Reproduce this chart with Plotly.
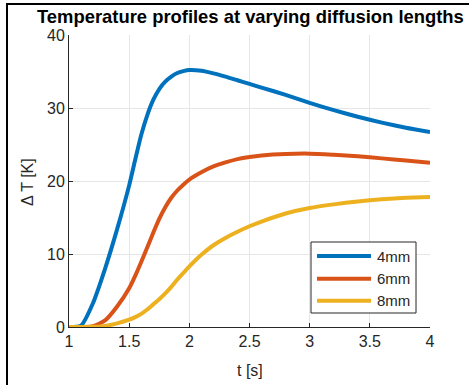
import plotly.graph_objects as go

# ---------------- data ----------------
t = [1.0, 1.1, 1.2, 1.3, 1.4, 1.5, 1.55, 1.6, 1.65, 1.7, 1.75, 1.8, 1.85, 1.9, 1.95, 2.0,
     2.1, 2.2, 2.3, 2.4, 2.5, 2.6, 2.8, 3.0, 3.2, 3.4, 3.6, 3.8, 4.0]
dT_4mm = [0.0, 0.2, 3.3, 8.0, 13.4, 19.4, 22.9, 26.3, 29.0, 31.1, 32.6, 33.6, 34.3, 34.8, 35.05, 35.2,
          35.1, 34.75, 34.3, 33.8, 33.3, 32.8, 31.8, 30.7, 29.7, 28.8, 28.0, 27.3, 26.7]
dT_6mm = [0.0, 0.0, 0.1, 0.9, 2.8, 5.3, 7.0, 8.9, 10.9, 12.9, 14.8, 16.4, 17.7, 18.7, 19.5, 20.2,
          21.2, 22.0, 22.55, 23.0, 23.3, 23.5, 23.7, 23.75, 23.6, 23.4, 23.1, 22.8, 22.5]
dT_8mm = [0.0, 0.0, 0.03, 0.15, 0.5, 1.0, 1.35, 1.8, 2.4, 3.1, 3.8, 4.6, 5.5, 6.5, 7.4, 8.3,
          9.9, 11.2, 12.2, 13.05, 13.8, 14.45, 15.55, 16.3, 16.8, 17.2, 17.5, 17.7, 17.8]
series_names = ["4mm", "6mm", "8mm"]
series_values = [dT_4mm, dT_6mm, dT_8mm]
colors = ["#0072BD", "#D95319", "#EDB120"]

x_ticks = [1, 1.5, 2, 2.5, 3, 3.5, 4]
x_ticklabels = ["1", "1.5", "2", "2.5", "3", "3.5", "4"]
y_ticks = [0, 10, 20, 30, 40]
y_ticklabels = ["0", "10", "20", "30", "40"]

title_text = "Temperature profiles at varying diffusion lengths"
xlabel = "t [s]"
ylabel = "\u0394 T [K]"

# ---------------- layout geometry ----------------
W, H = 469, 385
L, R, T, B = 69, 430, 35, 327
FONT = "Liberation Sans, Arial, sans-serif"
TXT = "#262626"


def px(xp):
    return (xp - L) / (R - L)


def py(yp):
    return (B - yp) / (B - T)


fig = go.Figure()
for name, vals, col in zip(series_names, series_values, colors):
    fig.add_trace(go.Scatter(x=t, y=vals, mode="lines", name=name,
                             line=dict(color=col, width=4, shape="spline", smoothing=0.6),
                             showlegend=False, hoverinfo="skip"))

shapes = []
annotations = []

# figure border (top + left visible)
shapes.append(dict(type="path", xref="paper", yref="paper",
                   path=f"M {px(7)} {py(400)} L {px(7)} {py(4)} L {px(480)} {py(4)}",
                   line=dict(color="black", width=2)))

# manual legend
lx0, lx1, ly0, ly1 = 311, 416, 242, 313
shapes.append(dict(type="rect", xref="paper", yref="paper", layer="above",
                   x0=px(lx0), x1=px(lx1), y0=py(ly1), y1=py(ly0),
                   line=dict(color=TXT, width=1), fillcolor="white"))
row_y = [256, 278.7, 300.7]
for name, col, ry in zip(series_names, colors, row_y):
    shapes.append(dict(type="line", xref="paper", yref="paper", layer="above",
                       x0=px(317), x1=px(371), y0=py(ry), y1=py(ry),
                       line=dict(color=col, width=4)))
    annotations.append(dict(text=name, xref="paper", yref="paper", x=px(375), y=py(ry),
                            xanchor="left", yanchor="middle", showarrow=False,
                            font=dict(family=FONT, size=15, color=TXT)))

# title
annotations.append(dict(text=f"<b>{title_text}</b>", xref="paper", yref="paper",
                        x=px(251), y=py(17), xanchor="center", yanchor="middle",
                        showarrow=False, font=dict(family=FONT, size=18.4, color="black")))
# axis labels
annotations.append(dict(text=xlabel, xref="paper", yref="paper", x=px(249.5), y=py(370),
                        xanchor="center", yanchor="middle", showarrow=False,
                        font=dict(family=FONT, size=16, color=TXT)))
annotations.append(dict(text=ylabel, xref="paper", yref="paper", x=px(27), y=py(182),
                        xanchor="center", yanchor="middle", showarrow=False, textangle=-90,
                        font=dict(family=FONT, size=16, color=TXT)))

fig.update_layout(
    width=W, height=H,
    margin=dict(l=L, r=W - R, t=T, b=H - B, pad=0),
    paper_bgcolor="white", plot_bgcolor="white",
    font=dict(family=FONT, size=16, color=TXT),
    shapes=shapes, annotations=annotations,
    showlegend=False,
)
fig.update_xaxes(range=[1, 4], tickvals=x_ticks, ticktext=x_ticklabels,
                 showgrid=True, gridcolor="#E6E6E6", gridwidth=1, zeroline=False,
                 showline=True, linecolor=TXT, linewidth=1,
                 ticks="inside", ticklen=4, tickcolor=TXT,
                 tickfont=dict(family=FONT, size=16, color=TXT))
fig.update_yaxes(range=[0, 40], tickvals=y_ticks, ticktext=y_ticklabels,
                 showgrid=True, gridcolor="#E6E6E6", gridwidth=1, zeroline=False,
                 showline=True, linecolor=TXT, linewidth=1,
                 ticks="inside", ticklen=4, tickcolor=TXT,
                 tickfont=dict(family=FONT, size=16, color=TXT))

fig.write_html("out.html", config={"displayModeBar": False},
               post_script="document.body.style.margin='0';document.body.style.overflow='hidden';")
